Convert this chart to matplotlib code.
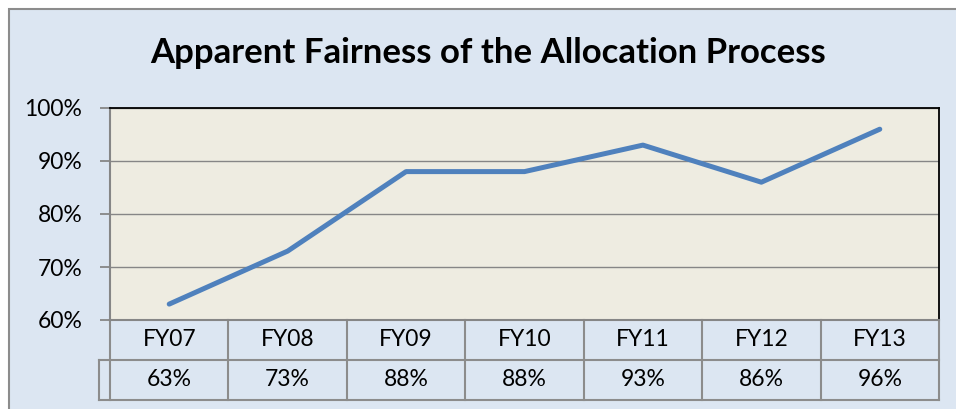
import matplotlib
matplotlib.use('Agg')
import matplotlib.pyplot as plt
import matplotlib.transforms as mtransforms
from matplotlib.patches import Rectangle
from matplotlib.lines import Line2D

plt.rcParams['font.family'] = ['Lato', 'DejaVu Sans']

categories = ['FY07', 'FY08', 'FY09', 'FY10', 'FY11', 'FY12', 'FY13']
values = [63, 73, 88, 88, 93, 86, 96]
yticks = [60, 70, 80, 90, 100]
title = 'Apparent Fairness of the Allocation Process'

W, H = 956, 409
fig = plt.figure(figsize=(W / 100, H / 100), dpi=100)
fig.patch.set_facecolor('white')

# outer chart frame (runs off the right/bottom of the image)
fig.patches.append(Rectangle((9 / W, -0.1), 1.1, 1 - 9 / H + 0.1, transform=fig.transFigure,
                             facecolor='#DCE6F2', edgecolor='#8C8C8C', linewidth=1.5, zorder=-5))

ax = fig.add_axes([110 / W, 1 - 320 / H, 829 / W, 212 / H])
ax.set_facecolor('#EEECE1')

x = [i + 0.5 for i in range(len(categories))]
ax.plot(x, values, color='#4F81BD', linewidth=3.6, solid_capstyle='round', zorder=3)

ax.set_xlim(0, len(categories))
ax.set_ylim(60, 100)
ax.set_yticks(yticks)
ax.set_yticklabels([f'{v}%' for v in yticks], fontsize=16.5)
ax.set_xticks([])
ax.yaxis.grid(True, color='#868686', linewidth=1.0)
ax.set_axisbelow(True)
ax.tick_params(axis='y', direction='out', length=7, width=1.3, color='#868686', pad=13)

for s in ['top', 'right']:
    ax.spines[s].set_color('black')
    ax.spines[s].set_linewidth(1.3)
for s in ['left', 'bottom']:
    ax.spines[s].set_color('#868686')
    ax.spines[s].set_linewidth(1.5)

# data table under the axis
trans = mtransforms.blended_transform_factory(ax.transData, ax.transAxes)
row_h = 40 / 212
key_w = 11 / 829 * len(categories)
tcol = '#8C8C8C'
lw = 1.5
n = len(categories)
ax.add_line(Line2D([-key_w, n], [-row_h, -row_h], transform=trans, color=tcol, lw=lw, clip_on=False))
ax.add_line(Line2D([-key_w, n], [-2 * row_h, -2 * row_h], transform=trans, color=tcol, lw=lw, clip_on=False))
ax.add_line(Line2D([-key_w, -key_w], [-row_h, -2 * row_h], transform=trans, color=tcol, lw=lw, clip_on=False))
for i in range(n + 1):
    ax.add_line(Line2D([i, i], [0, -2 * row_h], transform=trans, color=tcol, lw=lw, clip_on=False))
for xi, cat, val in zip(x, categories, values):
    ax.text(xi, -row_h / 2, cat, transform=trans, ha='center', va='center', fontsize=16.5)
    ax.text(xi, -1.5 * row_h, f'{val}%', transform=trans, ha='center', va='center', fontsize=16.5)

fig.text(488 / W, 1 - 53 / H, title, ha='center', va='center', fontsize=25, fontweight='bold')

fig.savefig('out.png', dpi=100)
